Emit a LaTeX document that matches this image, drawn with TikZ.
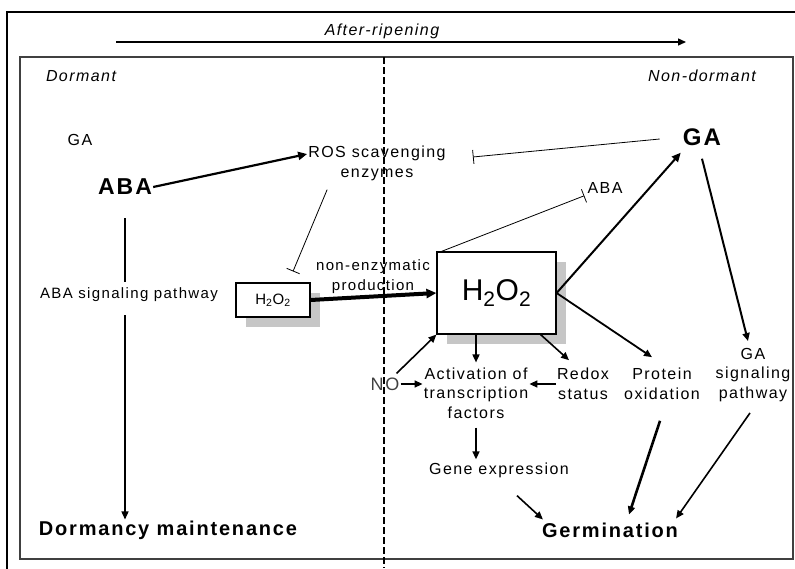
\documentclass[tikz,border=0pt]{standalone}
\usepackage{fontspec}
\setmainfont{Liberation Sans}[LetterSpace=9]
\usetikzlibrary{arrows.meta,shadows,calc}
\tikzset{
  lbl/.style={inner sep=1pt, align=center},
  arr/.style={-{Triangle[length=8pt,width=7pt]}, line width=1.6pt},
  thickarr/.style={-{Triangle[length=9pt,width=8pt]}, line width=2.2pt},
  inh/.style={-{Bar[width=14pt]}, line width=0.8pt},
  boxnode/.style={draw, line width=1.2pt, fill=white, inner sep=0pt,
    drop shadow={shadow xshift=10pt, shadow yshift=-10pt, fill=gray!45, opacity=1}},
}
\begin{document}
\begin{tikzpicture}[x=1pt,y=-1pt]
\useasboundingbox (0,0) rectangle (795,568);
% frames
\draw[line width=2pt] (7,580) -- (7,12) -- (805,12);
\draw[line width=1.3pt, black!75] (20,57) rectangle (793,559);
\draw[line width=1.8pt, dash pattern=on 7pt off 3pt] (384,57) -- (384,568);
% after-ripening
\node[lbl, font=\fontsize{16}{19}\selectfont\itshape] (ar) at (382,31) {After-ripening};
\coordinate (ars) at (116,42);
\coordinate (are) at (686,42);
\draw[arr, line width=1.4pt] (ars) -- (are);
\node[lbl, font=\fontsize{16}{19}\selectfont\itshape] (dormant) at (81,76) {Dormant};
\node[lbl, font=\fontsize{16}{19}\selectfont\itshape] (nondorm) at (702,76) {Non-dormant};
% left side
\node[lbl, font=\fontsize{16}{19}\selectfont] (gas) at (80,140) {GA};
\node[lbl, font=\fontsize{23}{26}\selectfont\bfseries] (aba) at (125,187) {ABA};
\node[lbl, font=\fontsize{15}{18}\selectfont] (abasig) at (129,295) {ABA signaling pathway};
\node[lbl, font=\fontsize{20}{24}\selectfont\bfseries] (dorm) at (168,530) {Dormancy maintenance};
% ROS
\node[lbl, font=\fontsize{16}{20}\selectfont] (ros) at (377,163) {ROS scavenging\\enzymes};
% GA right
\node[lbl, font=\fontsize{24}{26}\selectfont\bfseries] (gab) at (702,137) {GA};
\node[lbl, font=\fontsize{16}{18}\selectfont] (abas) at (605,188) {ABA};
% H2O2 boxes
\node[boxnode, minimum width=74pt, minimum height=34pt, font=\fontsize{15}{18}\selectfont] (h2s) at (273,300) {H\textsubscript{2}O\textsubscript{2}};
\node[boxnode, minimum width=119pt, minimum height=82pt, font=\fontsize{30}{34}\selectfont\addfontfeature{LetterSpace=0}] (h2b) at (496.5,293) {H\textsubscript{2}O\textsubscript{2}};
\node[lbl, font=\fontsize{15}{20}\selectfont] (nonenz) at (373,277) {non-enzymatic\\production};
% lower nodes
\node[lbl, font=\fontsize{18}{20}\selectfont, text=black!75] (no) at (385,384) {NO};
\node[lbl, font=\fontsize{16}{19.5}\selectfont] (act) at (476,393) {Activation of\\transcription\\factors};
\node[lbl, font=\fontsize{16}{19.5}\selectfont] (redox) at (583,384) {Redox\\status};
\node[lbl, font=\fontsize{16}{19.5}\selectfont] (prot) at (662,384) {Protein\\oxidation};
\node[lbl, font=\fontsize{16}{19.5}\selectfont] (gasig) at (753,375) {GA\\signaling\\pathway};
\node[lbl, font=\fontsize{16}{19}\selectfont] (gene) at (499,470) {Gene expression};
\node[lbl, font=\fontsize{20}{24}\selectfont\bfseries] (germ) at (610,530) {Germination};
% connectors
\draw[thickarr] (aba.east) -- ([yshift=9pt]ros.west);
\draw[inh] ([xshift=-22pt,yshift=-2pt]gab.west) -- ([xshift=26pt,yshift=6pt]ros.east);
\draw[inh] ([xshift=-55pt]h2b.north) -- ([xshift=-2pt,yshift=-1pt]abas.south west);
\draw[inh] ([xshift=20pt,yshift=-8pt]ros.south west) -- ([xshift=20pt,yshift=11pt]h2s.north);
\draw[-{Triangle[length=10pt,width=9pt]}, line width=4pt] (h2s.east) -- (h2b.west);
\draw[thickarr, line width=2pt] (h2b.east) -- ([xshift=-1pt,yshift=-6pt]gab.south west);
\draw[arr, line width=2pt] ([yshift=-12pt]gab.south) -- ([xshift=-5pt,yshift=6pt]gasig.north);
\draw[arr, line width=1.8pt] (h2b.east) -- ([xshift=-10pt,yshift=10pt]prot.north);
\draw[arr] (act.north |- h2b.south) -- ([yshift=4pt]act.north);
\draw[arr] ([xshift=-16pt]h2b.south east) -- ([xshift=-14pt,yshift=7pt]redox.north);
\draw[arr] ([xshift=-4pt,yshift=3pt]no.north east) -- (h2b.south west);
\draw[arr] ([yshift=0pt]no.east) -- (no.east -| act.west);
\draw[arr] (redox.west) -- (redox.west -| act.east);
\draw[arr] ([yshift=-8pt]act.south) -- ([yshift=2pt]act.south |- gene.north);
\draw[arr] ([xshift=18pt,yshift=-17pt]gene.south) -- ([xshift=2pt,yshift=2pt]germ.north west);
\draw[arr, line width=2.6pt] ([xshift=-2pt,yshift=-20pt]prot.south) -- ([xshift=19pt,yshift=7pt]germ.north);
\draw[arr] ([xshift=-3pt,yshift=-10pt]gasig.south) -- ([xshift=-3pt,yshift=3pt]germ.north east);
\draw[line width=1.3pt] ([yshift=-22pt]aba.south) -- ([yshift=5pt]aba.south |- abasig.north);
\draw[arr, line width=1.4pt] ([yshift=-12pt]aba.south |- abasig.south) -- (aba.south |- dorm.north);
\end{tikzpicture}
\end{document}
